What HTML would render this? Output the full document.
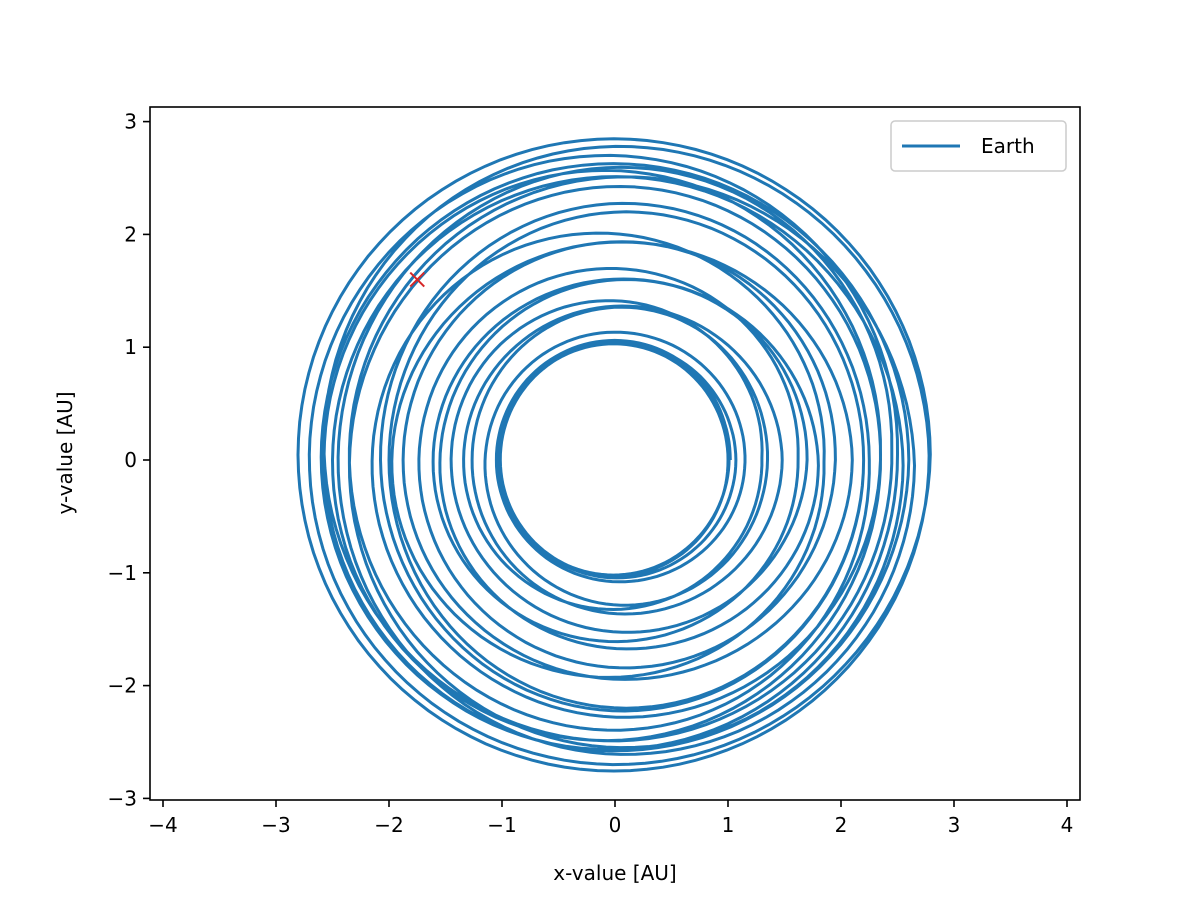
<!DOCTYPE html>
<html><head><meta charset="utf-8"><style>
body{margin:0;background:#fff}
svg text{font-family:"DejaVu Sans","Liberation Sans",sans-serif;font-size:20px;fill:#000}
</style></head><body>
<svg id="chart" width="1200" height="900" viewBox="0 0 1200 900" xmlns="http://www.w3.org/2000/svg">
<rect width="1200" height="900" fill="#fff"/>
<g id="plot"></g>
<rect x="150" y="107" width="930" height="693" fill="none" stroke="#000" stroke-width="1.6"/>
<g id="xticks"></g>
<g id="yticks"></g>
<text x="615" y="880" text-anchor="middle">x-value [AU]</text>
<text transform="translate(72,453) rotate(-90)" text-anchor="middle">y-value [AU]</text>
<g>
<rect x="891" y="121" width="175" height="50" rx="4" fill="#fff" stroke="#ccc" stroke-width="1.5"/>
<line x1="902" y1="146" x2="960" y2="146" stroke="#1f77b4" stroke-width="3"/>
<text x="981" y="153">Earth</text>
</g>
</svg>
<script>
const xTicks=[-4,-3,-2,-1,0,1,2,3,4];
const yTicks=[-3,-2,-1,0,1,2,3];
const loopRx=[1.02,1.05,1.0,1.03,1.1,1.3,1.38,1.35,1.6,1.7,1.62,1.9,2.0,1.95,2.3,2.5,2.45,2.6,2.55,2.8,2.79,2.4,2.6,2.2,2.1];
const loopRy=[1.03,1.05,1.02,1.04,1.08,1.35,1.37,1.33,1.6,1.65,1.6,1.93,1.95,1.9,2.4,2.55,2.5,2.62,2.6,2.8,2.8,2.5,2.63,2.3,2.2];
const loopCx=[0,0.02,0,-0.02,0.05,0.05,0.1,-0.05,0.1,0.1,0.0,0.05,0.1,-0.1,0.05,0.05,-0.1,0,-0.05,-0.01,-0.01,0.05,0.05,0.05,0.1];
const loopCy=[0,0,0,0.02,-0.02,0,0,0.02,0,-0.05,0.02,0,0,-0.02,0,-0.05,0.05,0,0.05,0.05,0.04,0.1,-0.05,0,0];
const markerX=[-1.75], markerY=[1.6];
const sx=v=>615+v*113, sy=v=>460-v*112.8;
const NS="http://www.w3.org/2000/svg";
const xg=document.getElementById('xticks'), yg=document.getElementById('yticks'), plot=document.getElementById('plot');
const lab=v=>v<0?'\u2212'+(-v):''+v;
xTicks.forEach(v=>{
 const l=document.createElementNS(NS,'line');
 
 
 l.setAttribute('x1',sx(v));l.setAttribute('x2',sx(v));l.setAttribute('y1',800);l.setAttribute('y2',807);l.setAttribute('stroke','#000');l.setAttribute('stroke-width','1.6');xg.appendChild(l);
 const t=document.createElementNS(NS,'text');
 
 
 t.setAttribute('x',sx(v));t.setAttribute('y',832);t.setAttribute('text-anchor','middle');t.textContent=lab(v);xg.appendChild(t);
});
yTicks.forEach(v=>{
 const l=document.createElementNS(NS,'line');
 
 
 l.setAttribute('x1',143);l.setAttribute('x2',150);l.setAttribute('y1',sy(v));l.setAttribute('y2',sy(v));l.setAttribute('stroke','#000');l.setAttribute('stroke-width','1.6');yg.appendChild(l);
 const t=document.createElementNS(NS,'text');
 
 
 t.setAttribute('x',137);t.setAttribute('y',sy(v)+7);t.setAttribute('text-anchor','end');t.textContent=lab(v);yg.appendChild(t);
});
let d='';const N=120;
for(let i=0;i<loopRx.length;i++){
 const j=Math.min(i+1,loopRx.length-1);
 for(let k=0;k<N;k++){
  const f=k/N,a=f*2*Math.PI;
  const rx=loopRx[i]+(loopRx[j]-loopRx[i])*f, ry=loopRy[i]+(loopRy[j]-loopRy[i])*f;
  const cx=loopCx[i]+(loopCx[j]-loopCx[i])*f, cy=loopCy[i]+(loopCy[j]-loopCy[i])*f;
  const x=sx(cx+rx*Math.cos(a)), y=sy(cy+ry*Math.sin(a));
  d+=(d?'L':'M')+x.toFixed(1)+','+y.toFixed(1);
 }
}
const p=document.createElementNS(NS,'path');


p.setAttribute('d',d);p.setAttribute('fill','none');p.setAttribute('stroke','#1f77b4');p.setAttribute('stroke-width','3');plot.appendChild(p);
markerX.forEach((mx,i)=>{
 const x=sx(mx),y=sy(markerY[i]);
 const m=document.createElementNS(NS,'path');
 
 
 m.setAttribute('d',`M${x-7},${y-7}L${x+7},${y+7}M${x-7},${y+7}L${x+7},${y-7}`);
 m.setAttribute('stroke','#d62728');m.setAttribute('stroke-width','2');plot.appendChild(m);
});
</script>
</body></html>
